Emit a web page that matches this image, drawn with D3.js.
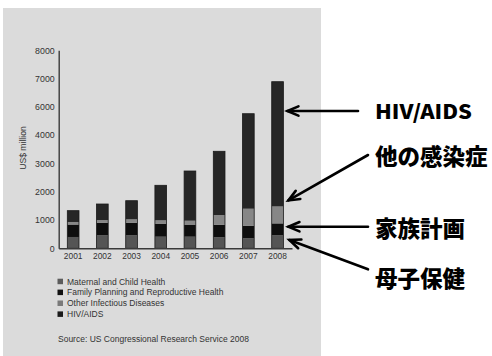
<!DOCTYPE html>
<html>
<head>
<meta charset="utf-8">
<script src="https://cdn.jsdelivr.net/npm/d3@7"></script>
<style>
  html, body { margin: 0; padding: 0; background: #ffffff; }
  svg { display: block; }
</style>
</head>
<body>
<svg id="chart" width="492" height="356"></svg>
<script>
// Years on the x axis
const years = ["2001", "2002", "2003", "2004", "2005", "2006", "2007", "2008"];

// Funding per category, US$ million (stacked bottom to top)
const maternalChild   = [400, 460, 460, 410, 410, 388, 353, 460];
const familyPlanning  = [440, 445, 445, 450, 413, 446, 446, 420];
const otherInfectious = [ 90,  95, 120, 130, 152, 343, 600, 600];
const hivAids         = [400, 565, 657, 1236, 1756, 2251, 3357, 4407];

// Axis tick values and the labels printed beside them
const tickValues = [0, 1000, 2000, 3000, 4000, 5000, 6000, 7000];
const tickLabels = ["0", "1000", "2000", "3000", "4000", "6000", "7000", "8000"];

// Series names (legend) and Japanese callouts
const seriesNames = ["Maternal and Child Health", "Family Planning and Reproductive Health",
                     "Other Infectious Diseases", "HIV/AIDS"];
const calloutLabels = ["HIV/AIDS", "他の感染症", "家族計画", "母子保健"];

const seriesKeys = ["mch", "fp", "oid", "hiv"];
const seriesColors = { mch: "#555555", fp: "#0e0e0e", oid: "#878787", hiv: "#262626" };
const legendColors = ["#5c5c5c", "#111111", "#7a7a7a", "#1a1a1a"];

const rows = years.map((y, i) => ({
  year: y,
  mch: maternalChild[i],
  fp: familyPlanning[i],
  oid: otherInfectious[i],
  hiv: hivAids[i]
}));

const svg = d3.select("#chart");

// grey panel behind the chart
svg.append("rect")
  .attr("x", 3).attr("y", 8).attr("width", 318).attr("height", 348)
  .attr("fill", "#dbdbdb");

const x = d3.scaleBand()
  .domain(years)
  .range([58.7, 292])
  .paddingInner(0.6)
  .paddingOuter(0.295);

const y = d3.scaleLinear()
  .domain([0, 7000])
  .range([248.3, 50.2]);

const stack = d3.stack().keys(seriesKeys);
const stacked = stack(rows);

const g = svg.append("g");

g.selectAll("g.series")
  .data(stacked)
  .join("g")
  .attr("class", "series")
  .attr("fill", d => seriesColors[d.key])
  .selectAll("rect")
  .data(d => d)
  .join("rect")
  .attr("x", d => x(d.data.year))
  .attr("width", x.bandwidth())
  .attr("y", d => y(d[1]))
  .attr("height", d => y(d[0]) - y(d[1]));

// outline of each whole bar
g.selectAll("rect.outline")
  .data(rows)
  .join("rect")
  .attr("class", "outline")
  .attr("x", d => x(d.year))
  .attr("width", x.bandwidth())
  .attr("y", d => y(d.mch + d.fp + d.oid + d.hiv))
  .attr("height", d => y(0) - y(d.mch + d.fp + d.oid + d.hiv))
  .attr("fill", "none")
  .attr("stroke", "#1a1a1a")
  .attr("stroke-width", 0.8);

// y axis
const yAxis = d3.axisLeft(y)
  .tickValues(tickValues)
  .tickSize(0)
  .tickPadding(4)
  .tickFormat(d => tickLabels[tickValues.indexOf(d)]);

const ya = svg.append("g")
  .attr("transform", "translate(58.7,0)")
  .call(yAxis);
ya.select(".domain").attr("stroke", "#3a3a3a").attr("stroke-width", 1.4);
ya.selectAll("text")
  .attr("font-family", "Liberation Sans, Arial, sans-serif")
  .attr("font-size", 8.8)
  .attr("fill", "#333");

// x axis
const xAxis = d3.axisBottom(x).tickSize(0).tickPadding(5);
const xa = svg.append("g")
  .attr("transform", "translate(0,248.3)")
  .call(xAxis);
xa.select(".domain").attr("stroke", "#3a3a3a").attr("stroke-width", 1.4);
xa.selectAll("text")
  .attr("font-family", "Liberation Sans, Arial, sans-serif")
  .attr("font-size", 8.4)
  .attr("fill", "#333");

// y axis title
svg.append("text")
  .attr("transform", "translate(25.5,148) rotate(-90)")
  .attr("text-anchor", "middle")
  .attr("font-family", "Liberation Sans, Arial, sans-serif")
  .attr("font-size", 8.6)
  .attr("fill", "#333")
  .text("US$ million");

// legend
const legend = svg.append("g");
seriesNames.forEach((name, i) => {
  const ly = 281.7 + i * 10.9;
  legend.append("rect")
    .attr("x", 57.5).attr("y", ly - 3)
    .attr("width", 5.5).attr("height", 5.5)
    .attr("fill", legendColors[i]);
  legend.append("text")
    .attr("x", 67).attr("y", ly + 2.8)
    .attr("font-family", "Liberation Sans, Arial, sans-serif")
    .attr("font-size", 8.5)
    .attr("fill", "#333")
    .text(name);
});

svg.append("text")
  .attr("x", 58).attr("y", 341.8)
  .attr("font-family", "Liberation Sans, Arial, sans-serif")
  .attr("font-size", 8.5)
  .attr("fill", "#333")
  .text("Source: US Congressional Research Service 2008");

// callout arrows pointing at the 2008 bar segments
const barRight = x("2008") + x.bandwidth();
const last = rows[rows.length - 1];
const arrows = [
  { from: [358, 111],  to: [barRight + 4, 111] },
  { from: [368, 155],  to: [barRight + 5, y(last.mch + last.fp + last.oid) - 6] },
  { from: [368, 226.7], to: [barRight + 5, 226.7] },
  { from: [368, 269.3], to: [barRight + 6, 240] }
];

const arrowG = svg.append("g")
  .attr("stroke", "#000")
  .attr("stroke-width", 2.6)
  .attr("stroke-linecap", "round")
  .attr("fill", "none");

arrows.forEach(a => {
  const [x1, y1] = a.from, [x2, y2] = a.to;
  arrowG.append("line")
    .attr("x1", x1).attr("y1", y1)
    .attr("x2", x2).attr("y2", y2);
  const ang = Math.atan2(y1 - y2, x1 - x2);
  const len = 12, spread = 0.4;
  const p1 = [x2 + len * Math.cos(ang + spread), y2 + len * Math.sin(ang + spread)];
  const p2 = [x2 + len * Math.cos(ang - spread), y2 + len * Math.sin(ang - spread)];
  arrowG.append("path")
    .attr("d", `M${p1[0]},${p1[1]} L${x2},${y2} L${p2[0]},${p2[1]}`)
    .attr("stroke-linejoin", "miter");
});

// callout labels
const calloutY = [119, 164.5, 236.5, 286.5];
calloutLabels.forEach((t, i) => {
  const txt = svg.append("text")
    .attr("x", 375)
    .attr("y", calloutY[i])
    .attr("font-family", "Noto Sans CJK JP, sans-serif")
    .attr("font-weight", 900)
    .attr("font-size", i === 0 ? 20 : 22.5)
    .attr("fill", "#000")
    .text(t);
  if (i === 0) txt.attr("textLength", 97).attr("lengthAdjust", "spacingAndGlyphs");
});
</script>
</body>
</html>
